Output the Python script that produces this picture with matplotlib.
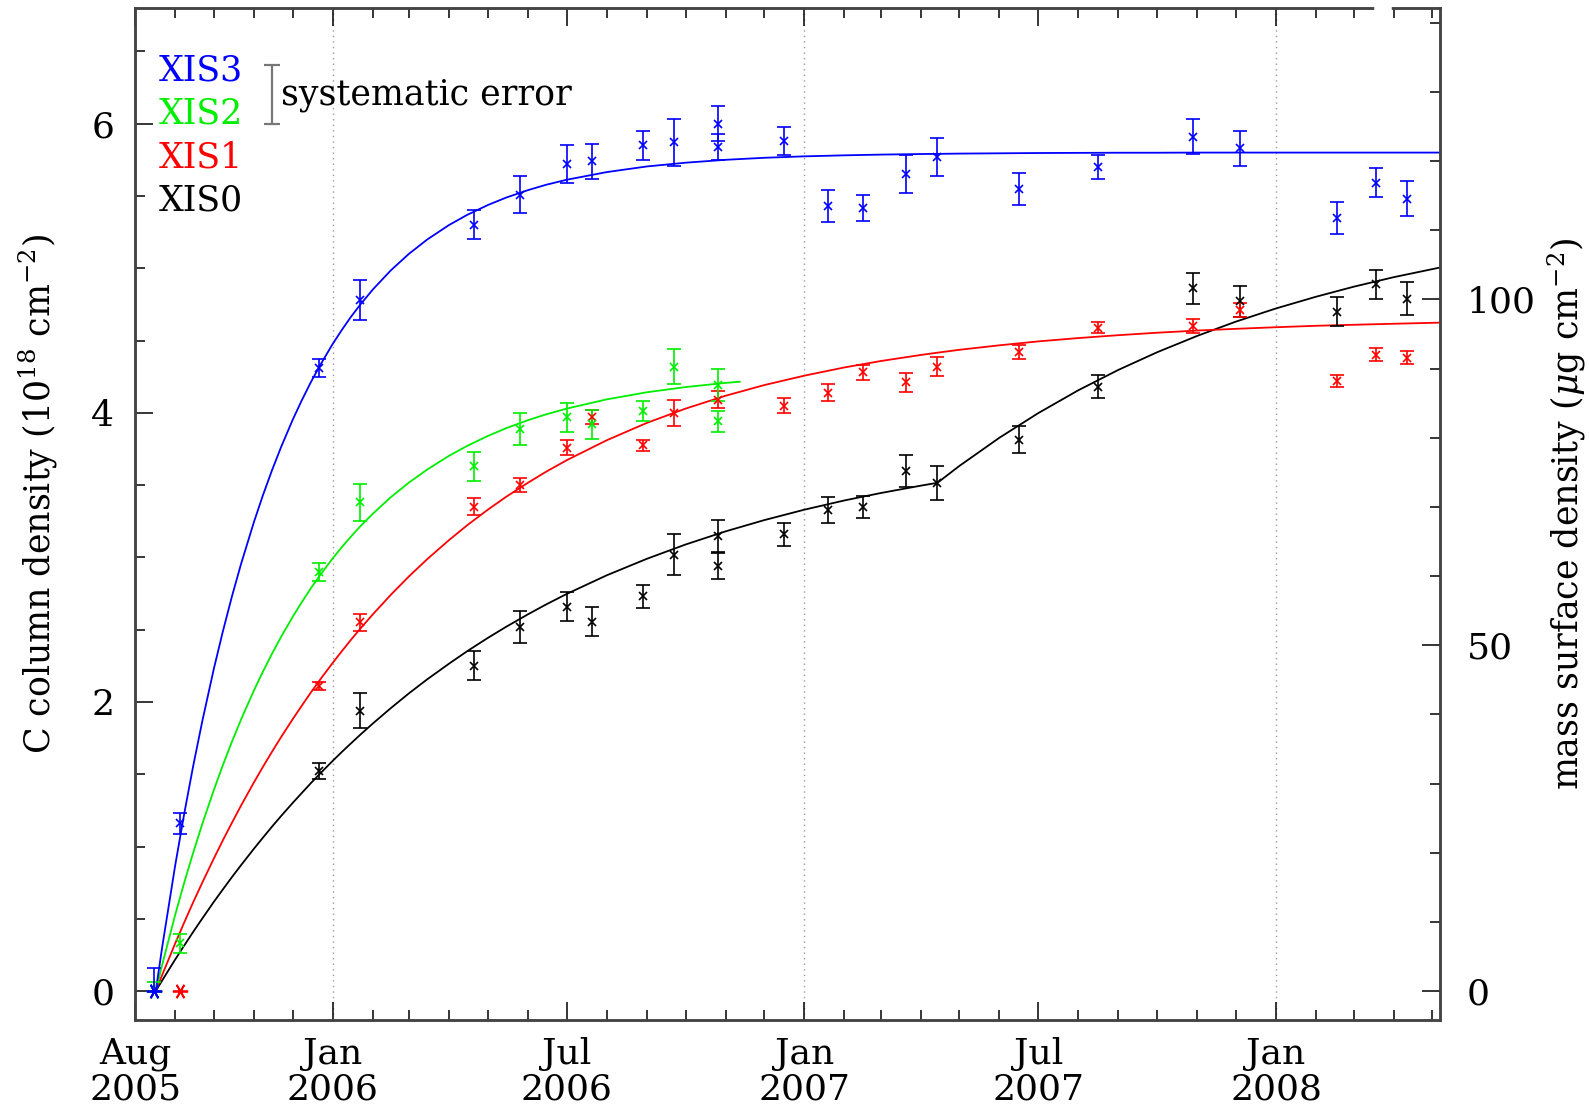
import matplotlib
matplotlib.use("Agg")
import matplotlib.pyplot as plt
import matplotlib.dates as mdates
from matplotlib.ticker import FixedLocator, MultipleLocator
import numpy as np

plt.rcParams['font.family'] = ['DejaVu Serif']
plt.rcParams['mathtext.fontset'] = 'dejavuserif'

# --- measurements: C column density (1e18 cm^-2) and 1-sigma errors ---
xis3_dates = ['2005-08-16', '2005-09-05', '2005-12-21', '2006-01-22', '2006-04-20', '2006-05-26',
              '2006-07-01', '2006-07-21', '2006-08-29', '2006-09-22', '2006-10-26', '2006-10-26',
              '2006-12-16', '2007-01-19', '2007-02-15', '2007-03-21', '2007-04-14', '2007-06-16',
              '2007-08-16', '2007-10-29', '2007-12-04', '2008-02-17', '2008-03-18', '2008-04-11']
xis3_vals = [0.0, 1.16, 4.31, 4.78, 5.30, 5.51, 5.72, 5.74, 5.85, 5.87, 6.00, 5.84,
             5.88, 5.43, 5.42, 5.65, 5.77, 5.55, 5.70, 5.91, 5.83, 5.35, 5.59, 5.48]
xis3_err = [0.16, 0.07, 0.06, 0.14, 0.10, 0.13, 0.13, 0.12, 0.10, 0.16, 0.12, 0.09,
            0.10, 0.11, 0.09, 0.13, 0.13, 0.11, 0.08, 0.12, 0.12, 0.11, 0.10, 0.12]

xis2_dates = ['2005-08-16', '2005-09-05', '2005-12-21', '2006-01-22', '2006-04-20', '2006-05-26',
              '2006-07-01', '2006-07-21', '2006-08-29', '2006-09-22', '2006-10-26', '2006-10-26']
xis2_vals = [0.0, 0.33, 2.90, 3.38, 3.63, 3.89, 3.97, 3.92, 4.01, 4.32, 4.19, 3.94]
xis2_err = [0.06, 0.065, 0.06, 0.13, 0.10, 0.11, 0.10, 0.10, 0.07, 0.12, 0.11, 0.07]

xis1_dates = ['2005-09-05', '2005-12-21', '2006-01-22', '2006-04-20', '2006-05-26', '2006-07-01',
              '2006-07-21', '2006-08-29', '2006-09-22', '2006-10-26', '2006-12-16', '2007-01-19',
              '2007-02-15', '2007-03-21', '2007-04-14', '2007-06-16', '2007-08-16', '2007-10-29',
              '2007-12-04', '2008-02-17', '2008-03-18', '2008-04-11']
xis1_vals = [0.0, 2.11, 2.55, 3.35, 3.50, 3.76, 3.97, 3.775, 4.00, 4.09, 4.05, 4.14,
             4.28, 4.21, 4.32, 4.42, 4.59, 4.60, 4.71, 4.22, 4.40, 4.38]
xis1_err = [0.0, 0.03, 0.06, 0.06, 0.05, 0.05, 0.05, 0.04, 0.09, 0.06, 0.05, 0.06,
            0.05, 0.065, 0.065, 0.05, 0.04, 0.05, 0.05, 0.04, 0.045, 0.045]

xis0_dates = ['2005-08-16', '2005-12-21', '2006-01-22', '2006-04-20', '2006-05-26', '2006-07-01',
              '2006-07-21', '2006-08-29', '2006-09-22', '2006-10-26', '2006-10-26', '2006-12-16',
              '2007-01-19', '2007-02-15', '2007-03-21', '2007-04-14', '2007-06-16', '2007-08-16',
              '2007-10-29', '2007-12-04', '2008-02-17', '2008-03-18', '2008-04-11']
xis0_vals = [0.0, 1.52, 1.94, 2.25, 2.52, 2.66, 2.555, 2.73, 3.02, 3.15, 2.94, 3.16,
             3.33, 3.35, 3.60, 3.515, 3.815, 4.18, 4.86, 4.77, 4.70, 4.89, 4.79]
xis0_err = [0.0, 0.055, 0.12, 0.10, 0.11, 0.10, 0.10, 0.08, 0.14, 0.11, 0.09, 0.08,
            0.09, 0.075, 0.11, 0.115, 0.095, 0.08, 0.11, 0.11, 0.10, 0.10, 0.115]

# --- fitted curves, values ---
curve_dates = ['2005-08-17', '2005-08-22', '2005-09-01', '2005-09-08', '2005-09-15', '2005-09-22',
               '2005-10-01', '2005-10-08', '2005-10-15', '2005-10-22', '2005-11-01', '2005-11-08',
               '2005-11-15', '2005-11-22', '2005-12-01', '2005-12-08', '2005-12-15', '2005-12-22',
               '2006-01-01', '2006-01-08', '2006-01-15', '2006-01-22', '2006-02-01', '2006-02-15',
               '2006-03-01', '2006-03-15', '2006-04-01', '2006-04-15', '2006-05-01', '2006-05-15',
               '2006-06-01', '2006-06-15', '2006-07-01', '2006-08-01', '2006-09-01', '2006-10-01',
               '2006-11-01', '2006-12-01', '2007-01-01', '2007-02-01', '2007-03-01', '2007-04-01',
               '2007-04-14', '2007-05-01', '2007-06-01', '2007-07-01', '2007-08-01', '2007-09-01',
               '2007-10-01', '2007-11-01', '2007-12-01', '2008-01-01', '2008-02-01', '2008-03-01',
               '2008-04-01', '2008-05-08']
xis3_curve = [0, 0.305, 0.867, 1.225, 1.558, 1.866, 2.231, 2.490, 2.731, 2.954, 3.245, 3.431,
              3.603, 3.763, 3.952, 4.086, 4.211, 4.326, 4.477, 4.573, 4.663, 4.745, 4.853, 4.986,
              5.100, 5.198, 5.299, 5.369, 5.437, 5.488, 5.540, 5.577, 5.612, 5.665, 5.704, 5.730,
              5.750, 5.764, 5.774, 5.781, 5.786, 5.790, 5.791, 5.793, 5.795, 5.797, 5.798, 5.799,
              5.799, 5.800, 5.800, 5.800, 5.800, 5.800, 5.800, 5.800]
xis1_curve = [0, 0.112, 0.329, 0.474, 0.615, 0.750, 0.918, 1.044, 1.165, 1.283, 1.444, 1.552,
              1.656, 1.757, 1.881, 1.974, 2.065, 2.152, 2.271, 2.351, 2.429, 2.504, 2.606, 2.742,
              2.869, 2.987, 3.120, 3.222, 3.330, 3.418, 3.516, 3.592, 3.672, 3.810, 3.930, 4.029,
              4.118, 4.192, 4.257, 4.314, 4.358, 4.400, 4.416, 4.436, 4.467, 4.494, 4.517, 4.537,
              4.554, 4.569, 4.581, 4.592, 4.602, 4.609, 4.616, 4.624]
xis0_curve = [0, 0.074, 0.218, 0.315, 0.410, 0.502, 0.618, 0.704, 0.789, 0.871, 0.985, 1.062,
              1.138, 1.211, 1.302, 1.370, 1.438, 1.503, 1.593, 1.654, 1.713, 1.771, 1.851, 1.958,
              2.060, 2.156, 2.265, 2.351, 2.443, 2.519, 2.606, 2.674, 2.747, 2.876, 2.990, 3.089,
              3.180, 3.258, 3.330, 3.394, 3.445, 3.496, 3.516, 3.633, 3.828, 3.998, 4.156, 4.297,
              4.419, 4.532, 4.631, 4.722, 4.803, 4.872, 4.938, 5.007]
xis2_curve_dates = curve_dates[:37] + ['2006-11-12']
xis2_curve = [0, 0.183, 0.526, 0.749, 0.958, 1.156, 1.392, 1.564, 1.726, 1.878, 2.080, 2.211,
              2.334, 2.450, 2.589, 2.690, 2.786, 2.875, 2.994, 3.071, 3.143, 3.212, 3.302, 3.417,
              3.518, 3.607, 3.703, 3.771, 3.840, 3.893, 3.949, 3.989, 4.029, 4.093, 4.142, 4.178,
              4.207, 4.215]

labels = ['XIS3', 'XIS2', 'XIS1', 'XIS0']
colors = ['#0000ff', '#00ee00', '#ff0000', '#000000']

tick_dates = ['2005-08-01', '2006-01-01', '2006-07-01', '2007-01-01', '2007-07-01', '2008-01-01']
year_lines = ['2006-01-01', '2007-01-01', '2008-01-01']
x_range = ['2005-08-01', '2008-05-07']
y_range = [-0.2, 6.8]
mass_per_column = 20.9     # ug cm^-2 per 1e18 cm^-2
sys_err = 0.205            # systematic error bar (half length)
sys_err_pos = ('2005-11-15', 6.2)


def dt(lst):
    return np.array(lst, dtype='datetime64[D]')


def draw_points(ax, dates, vals, errs, color):
    d = dt(dates)
    v = np.array(vals)
    e = np.array(errs)
    zero = v == 0
    has_err = e > 0
    lo = np.where(zero, 0, e)
    ax.errorbar(d[has_err], v[has_err], yerr=[lo[has_err], e[has_err]], fmt='none',
                ecolor=color, elinewidth=1.2, capsize=5, capthick=1.2, zorder=3)
    ax.plot(d[~zero], v[~zero], 'x', color=color, ms=6, mew=1.2, zorder=4)
    ax.plot(d[zero], v[zero], marker=(6, 2, 90), ls='none', color=color, ms=11, mew=1.3, zorder=4)


fig = plt.figure(figsize=(15.89, 11.12), dpi=100)
ax = fig.add_axes([0.0850, 0.0827, 0.8213, 0.9101])

for d in year_lines:
    ax.axvline(np.datetime64(d), color='#9a9a9a', ls=(0, (1, 3)), lw=1.0, zorder=0)

ax.plot(dt(curve_dates), xis0_curve, color=colors[3], lw=1.3, zorder=2)
ax.plot(dt(curve_dates), xis1_curve, color=colors[2], lw=1.3, zorder=2)
ax.plot(dt(xis2_curve_dates), xis2_curve, color=colors[1], lw=1.3, zorder=2)
ax.plot(dt(curve_dates), xis3_curve, color=colors[0], lw=1.3, zorder=2)

draw_points(ax, xis0_dates, xis0_vals, xis0_err, colors[3])
draw_points(ax, xis1_dates, xis1_vals, xis1_err, colors[2])
draw_points(ax, xis2_dates, xis2_vals, xis2_err, colors[1])
draw_points(ax, xis3_dates, xis3_vals, xis3_err, colors[0])

# systematic error key
ax.errorbar([np.datetime64(sys_err_pos[0])], [sys_err_pos[1]], yerr=sys_err, fmt='none',
            ecolor='#777777', elinewidth=1.6, capsize=6, capthick=1.6)
ax.text(0.112, 0.914, 'systematic error', transform=ax.transAxes, fontsize=25,
        ha='left', va='center')

# colour legend
for i, (lab, col) in enumerate(zip(labels, colors)):
    ax.text(0.0184, 0.928 - i * 0.0426, lab, color=col, transform=ax.transAxes,
            fontsize=25, ha='left', va='baseline')

ax.set_xlim(dt(x_range))
ax.set_ylim(y_range)

ax.xaxis.set_major_locator(FixedLocator(mdates.date2num(dt(tick_dates))))
ax.xaxis.set_major_formatter(mdates.DateFormatter('%b\n%Y'))
ax.xaxis.set_minor_locator(mdates.MonthLocator())
ax.yaxis.set_major_locator(MultipleLocator(2))
ax.yaxis.set_minor_locator(MultipleLocator(0.5))
ax.tick_params(axis='x', which='both', direction='in', top=True, bottom=True, width=1.1,
               labelsize=26, pad=12)
ax.tick_params(axis='y', which='both', direction='in', left=True, right=False, width=1.1,
               labelsize=26, pad=15)
ax.tick_params(which='major', length=13)
ax.tick_params(which='minor', length=7)
for lab in ax.get_xticklabels():
    lab.set_linespacing(1.05)

ax.set_ylabel(r'C column density (10$^{18}$ cm$^{-2}$)', fontsize=25, va='center')
ax.yaxis.set_label_coords(-0.074, 0.52)

ax2 = ax.twinx()
ax2.set_ylim(np.array(y_range) * mass_per_column)
ax2.yaxis.set_major_locator(MultipleLocator(50))
ax2.yaxis.set_minor_locator(MultipleLocator(10))
ax2.tick_params(axis='y', which='both', direction='in', right=True, width=1.1,
                labelsize=26, pad=19)
ax2.tick_params(which='major', length=13)
ax2.tick_params(which='minor', length=7)
ax2.set_ylabel(r'mass surface density ($\mu$g cm$^{-2}$)', fontsize=25, rotation=90,
               va='center')
ax2.yaxis.set_label_coords(1.097, 0.5)

for a in (ax, ax2):
    for sp in a.spines.values():
        sp.set_linewidth(1.8)
        sp.set_color('#444444')

# small break in the top frame, as in the original plot
ax2.plot([0.9517, 0.961], [1, 1], transform=ax2.transAxes, color='white', lw=4,
         clip_on=False, zorder=5)

fig.savefig('out.png', dpi=100)
